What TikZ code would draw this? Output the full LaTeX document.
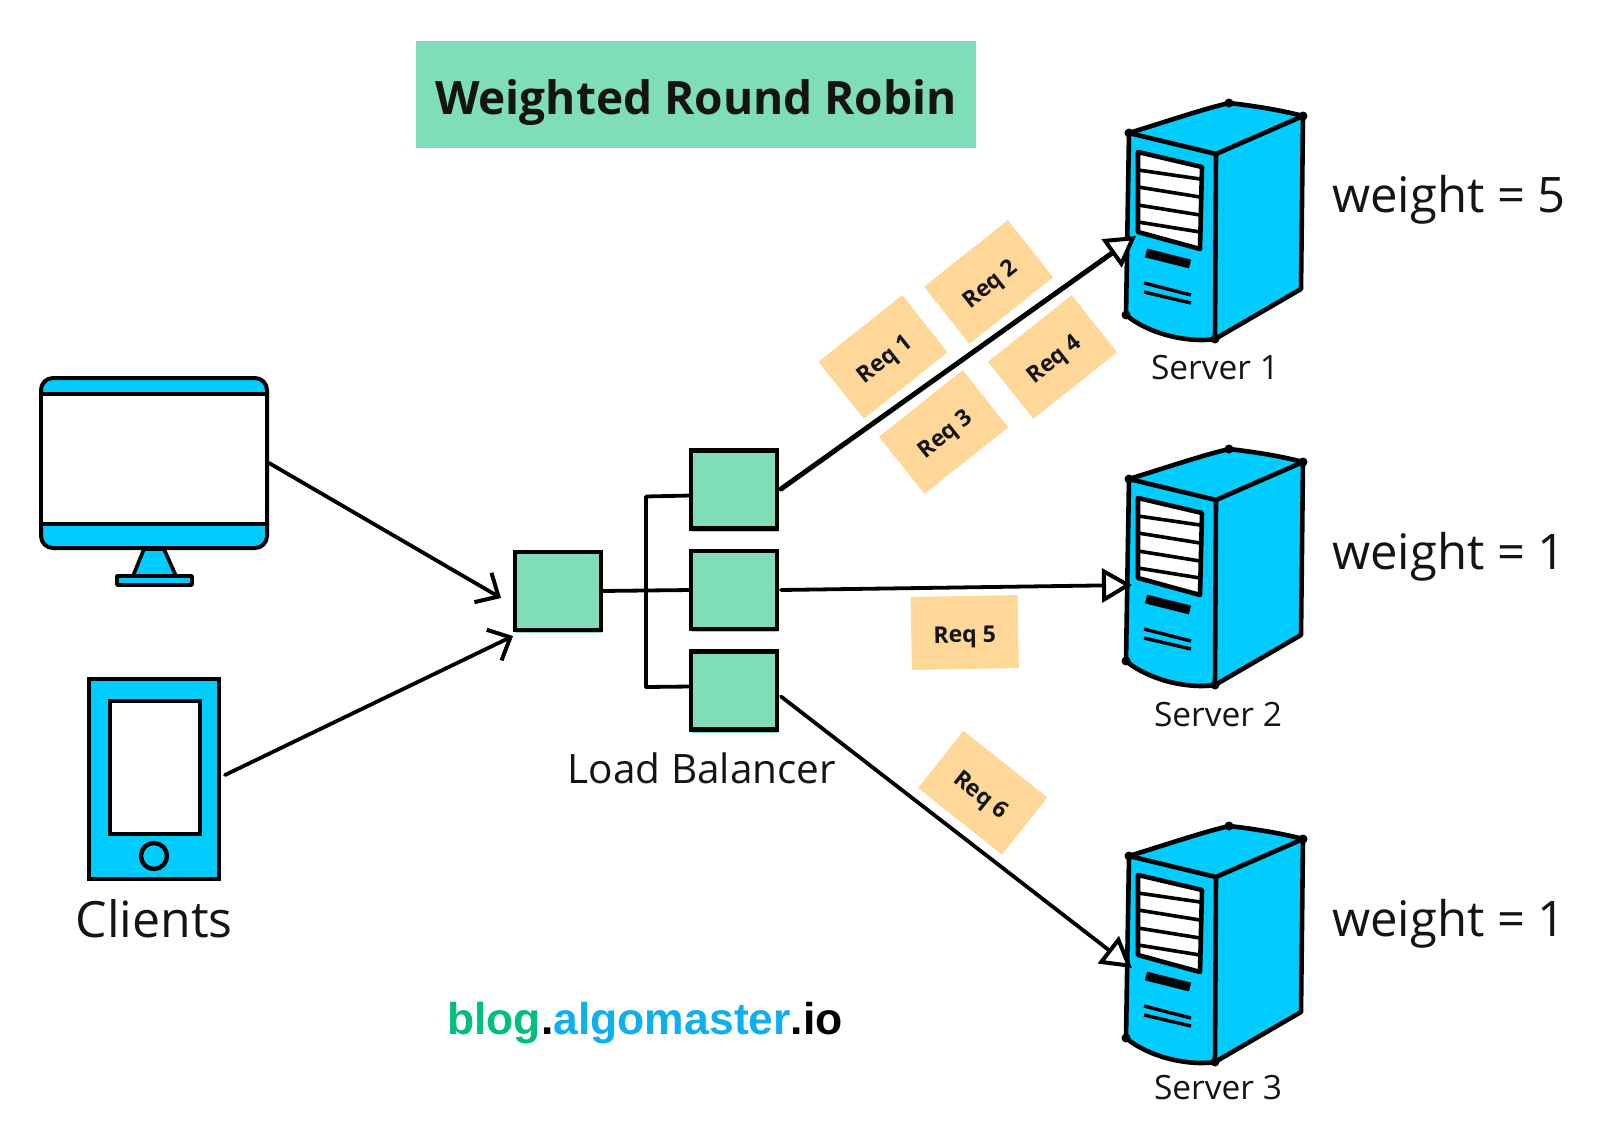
\documentclass[tikz,border=0pt]{standalone}
\usepackage{fontspec}
\setmainfont{Open Sans}
\newfontfamily\blogfont{Liberation Sans}
\usepackage{tikz}
\usetikzlibrary{positioning,shadows,arrows.meta}
\definecolor{servercyan}{HTML}{00CCFF}
\definecolor{lbgreen}{HTML}{7FDDB7}
\definecolor{notesand}{HTML}{FFD899}
\definecolor{blogteal}{HTML}{00BF7A}
\definecolor{blogsky}{HTML}{0DB0EF}
\definecolor{inkdark}{HTML}{141414}
\tikzset{
    pics/servertower/.style={code={
        \path [fill=servercyan] (1129,133) -- (1229,103) -- (1303,116) -- (1301,289) -- (1215,339)
            .. controls (1190,343) and (1150,335) .. (1126,315) -- cycle;
        \draw [towerline] (1129,133) .. controls (1165,122) and (1200,110) .. (1229,103)
            .. controls (1255,106) and (1280,110) .. (1303,116);
        \draw [towerline] (1129,133) -- (1216,154) -- (1303,116);
        \draw [towerline] (1129,133) -- (1126,315)
            .. controls (1150,335) and (1190,343) .. (1215,339) -- (1301,289) -- (1303,116);
        \draw [towerline] (1216,154) -- (1215,339);
        \foreach \cx/\cy in {1129/133,1229/103,1303/116,1215/339,1126/315}
            \fill (\cx,\cy) circle (4.5pt);
        \draw [towerline, fill=white] (1138,152) -- (1202,167) -- (1200,249) -- (1138,232) -- cycle;
        \foreach \ya/\yb in {170/179,187/197,205/215,222/232}
            \draw [line width=3.6pt] (1138,\ya) -- (1200,\yb);
        \draw [line width=9pt] (1146,253) -- (1190,264);
        \draw [line width=3.4pt] (1144,283) -- (1191,295);
        \draw [line width=3.4pt] (1144,292) -- (1191,303);
    }}
}
\begin{document}
\begin{tikzpicture}[
    x=1pt, y=-1pt,
    towerline/.style={line width=4.6pt, line join=round, line cap=round},
    titlebox/.style={rectangle, fill=lbgreen, minimum width=560pt, minimum height=107pt,
        text=inkdark, text height=40pt, text depth=0pt, font=\fontsize{46}{46}\selectfont\bfseries},
    balancer/.style={rectangle, draw=black, line width=4.4pt, fill=lbgreen, inner sep=0pt, outer sep=0pt,
        minimum width=86pt, minimum height=78pt,
        drop shadow={shadow xshift=1pt, shadow yshift=-3pt, fill=lbgreen, opacity=1}},
    ticket/.style={rectangle, fill=notesand, minimum width=107pt, minimum height=73pt,
        text=inkdark, text height=20pt, text depth=0pt, font=\fontsize{23}{23}\selectfont\bfseries},
    caption/.style={text=inkdark, font=\fontsize{33.5}{33.5}\selectfont},
    midcaption/.style={text=inkdark, font=\fontsize{50}{50}\selectfont},
    weighttag/.style={text=inkdark, anchor=west, inner sep=0pt, font=\fontsize{49}{49}\selectfont},
    linkline/.style={line width=3.8pt, line join=round, line cap=round},
    barbline/.style={linkline, -{Straight Barb[length=18pt, width=34pt, line width=4pt]}},
    hollowline/.style={linkline, -{Triangle[fill=white, line width=4pt, length=30pt, width=34pt]}}
]
\useasboundingbox (0,0) rectangle (1610,1148);

\node (Title00) [titlebox] at (696,94.5) {Weighted Round Robin};

% clients
\draw [line width=3.6pt, fill=servercyan, line join=round] (144,549) -- (164,549) -- (176,576) -- (133,576) -- cycle;
\draw [line width=3.6pt, fill=servercyan, line join=round] (117,576) rectangle (192,585);
\node (Monitor00) [rectangle, draw=black, line width=4pt, fill=servercyan, rounded corners=12pt,
    minimum width=226pt, minimum height=170pt] at (154,463) {};
\draw [line width=3.6pt, fill=white] (41,394) rectangle (267,524);

\node (Tablet00) [rectangle, draw=black, line width=4.4pt, fill=servercyan, inner sep=0pt, outer sep=0pt,
    minimum width=130pt, minimum height=200pt] at (154,779) {};
\node (TabletScreen00) [rectangle, draw=black, line width=4pt, fill=white, inner sep=0pt, outer sep=0pt,
    minimum width=90pt, minimum height=133pt] at (154.5,767) {};
\node (TabletButton00) [circle, draw=black, line width=4.4pt, inner sep=0pt, minimum size=26pt] at (154,856) {};
\node (Clients00) [midcaption] at (154,919) {Clients};

% load balancers
\node (Balancer00) [balancer] at (558,591) {};
\node (Balancer01) [balancer] at (734,489.5) {};
\node (Balancer02) [balancer] at (734,590) {};
\node (Balancer03) [balancer] at (734,690.5) {};
\node (BalancerName00) [midcaption, font=\fontsize{40.5}{40.5}\selectfont] at (702,768) {Load Balancer};

\draw [line width=3.8pt] (Balancer00.east) -- (Balancer02.west);
\draw [line width=3.8pt, line join=round] ([yshift=-6pt]Balancer01.west) -- (646,496.5) -- (646,687) -- ([yshift=4pt]Balancer03.west);

% servers
\pic (Server01) at (0,0) {servertower};
\pic (Server02) at (0,346) {servertower};
\pic (Server03) at (0,723) {servertower};
\coordinate (Port01) at (1136,236);
\coordinate (Port02) at (1132,585);
\coordinate (Port03) at (1132,968);

\node (ServerName01) [caption] at (1215,368) {Server 1};
\node (ServerName02) [caption] at (1218,715) {Server 2};
\node (ServerName03) [caption] at (1218,1088) {Server 3};
\node (Weight01) [weighttag] at (1332,200) {weight = 5};
\node (Weight02) [weighttag] at (1332,557) {weight = 1};
\node (Weight03) [weighttag] at (1332,924) {weight = 1};

% requests
\node (Note01) [ticket, rotate=38.5] at (883,357) {Req 1};
\node (Note02) [ticket, rotate=38.5] at (988.6,282) {Req 2};
\node (Note03) [ticket, rotate=38.5] at (943.6,432) {Req 3};
\node (Note04) [ticket, rotate=38.5] at (1052.5,357) {Req 4};
\node (Note05) [ticket, rotate=1] at (964.7,632.5) {Req 5};
\node (Note06) [ticket, rotate=-38.5] at (982.7,792.7) {Req 6};

\draw [barbline] (Monitor00.east) -- ([xshift=-14pt, yshift=-7pt]Balancer00.west);
\draw [barbline] ([xshift=6pt, yshift=4pt]Tablet00.east) -- ([xshift=-2pt, yshift=-6pt]Balancer00.south west);
\draw [hollowline, line width=5pt] ([xshift=4pt, yshift=0.5pt]Balancer01.east) -- (Port01);
\draw [hollowline] ([xshift=4pt]Balancer02.east) -- (Port02);
\draw [hollowline] ([xshift=4pt, yshift=-6pt]Balancer03.east) -- (Port03);

\node (Blog00) [font=\blogfont\fontsize{44.5}{44.5}\selectfont\bfseries] at (645,1023)
    {\textcolor{blogteal}{blog}.\textcolor{blogsky}{algomaster}.io};
\end{tikzpicture}
\end{document}
